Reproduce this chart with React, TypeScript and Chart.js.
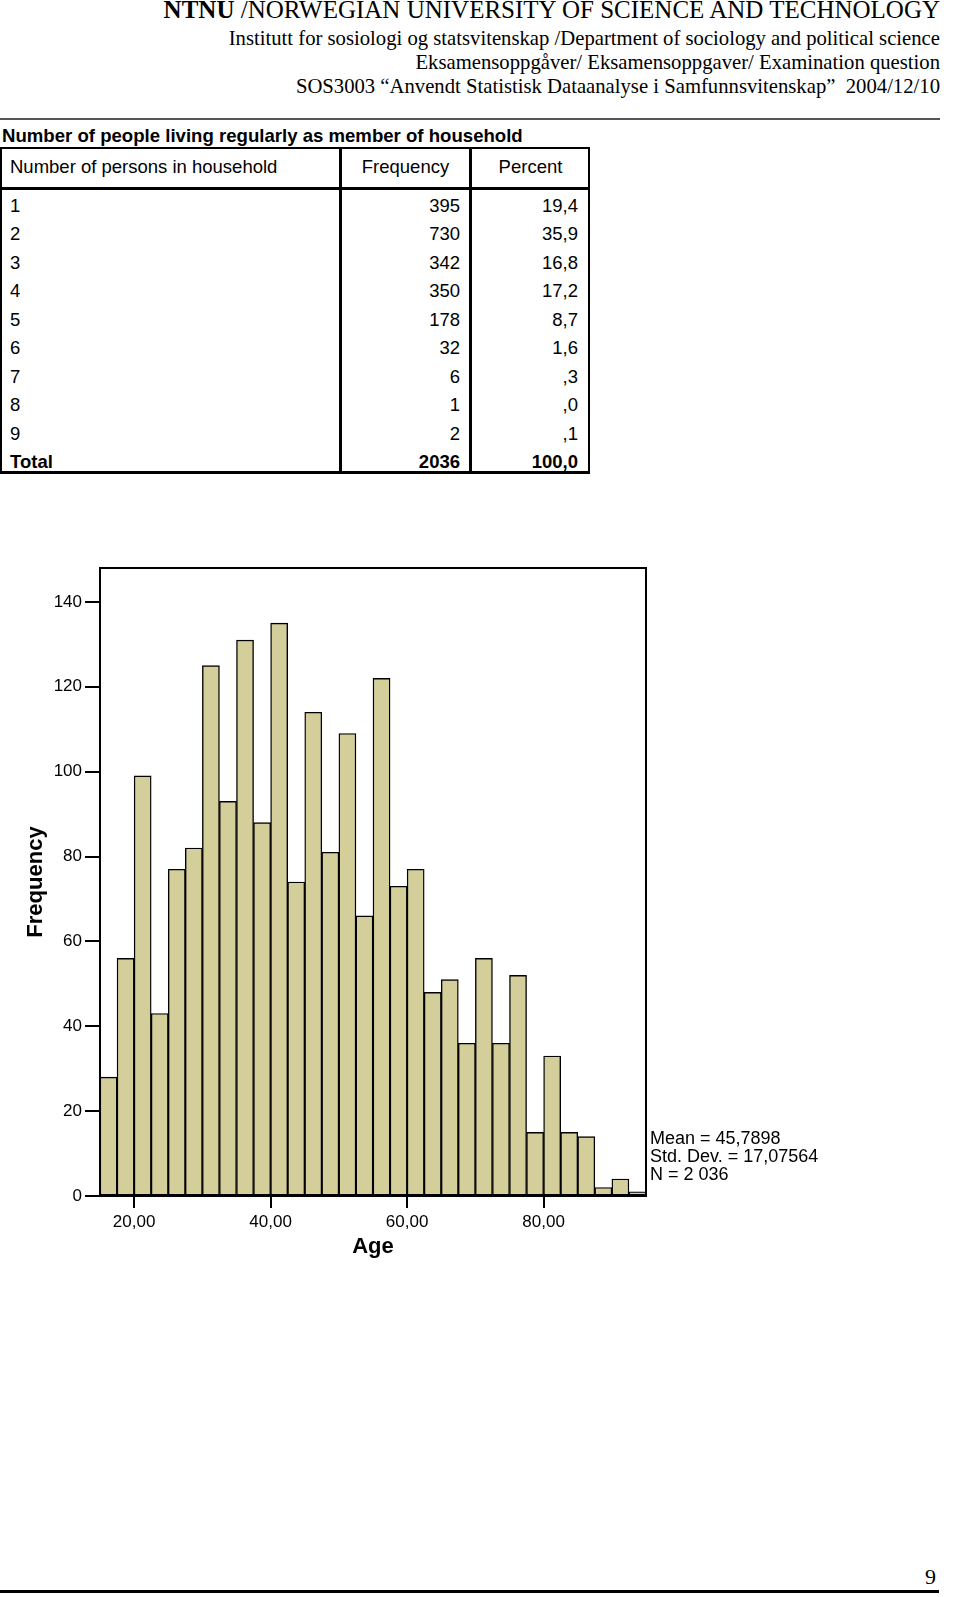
import React, { useEffect, useRef } from "react";
import { Chart, registerables } from "chart.js";

Chart.register(...registerables);

const FONT_SANS = '"Liberation Sans", Arial, Helvetica, sans-serif';
const FONT_SERIF = '"Liberation Serif", "Times New Roman", Times, serif';

// Header texts
const headerLine1Bold = "NTNU";
const headerLine1Rest = " /NORWEGIAN UNIVERSITY OF SCIENCE AND TECHNOLOGY";
const headerLines = [
  "Institutt for sosiologi og statsvitenskap /Department of sociology and political science",
  "Eksamensoppgåver/ Eksamensoppgaver/ Examination question",
  "SOS3003 \u201CAnvendt Statistisk Dataanalyse i Samfunnsvitenskap\u201D\u00A0\u00A02004/12/10",
];

// Table data
const tableTitle = "Number of people living regularly as member of household";
const tableHeaders = ["Number of persons in household", "Frequency", "Percent"];
const householdSizes = ["1", "2", "3", "4", "5", "6", "7", "8", "9"];
const householdFreq = ["395", "730", "342", "350", "178", "32", "6", "1", "2"];
const householdPct = ["19,4", "35,9", "16,8", "17,2", "8,7", "1,6", ",3", ",0", ",1"];
const totalRow = ["Total", "2036", "100,0"];

// Histogram data (bins of 2.5 years from 15 to 95)
const ageBinCenters = [
  16.25, 18.75, 21.25, 23.75, 26.25, 28.75, 31.25, 33.75, 36.25, 38.75, 41.25,
  43.75, 46.25, 48.75, 51.25, 53.75, 56.25, 58.75, 61.25, 63.75, 66.25, 68.75,
  71.25, 73.75, 76.25, 78.75, 81.25, 83.75, 86.25, 88.75, 91.25, 93.75,
];
const ageFrequencies = [
  28, 56, 99, 43, 77, 82, 125, 93, 131, 88, 135, 74, 114, 81, 109, 66, 122, 73,
  77, 48, 51, 36, 56, 36, 52, 15, 33, 15, 14, 2, 4, 1,
];
const xTickValues = [20, 40, 60, 80];
const yTickValues = [0, 20, 40, 60, 80, 100, 120, 140];
const xRange = [15, 95];
const yRange = [0, 148];
const statsLines = ["Mean = 45,7898", "Std. Dev. = 17,07564", "N = 2 036"];
const pageNumber = "9";

function HistogramChart() {
  const canvasRef = useRef<HTMLCanvasElement>(null);
  useEffect(() => {
    const el = canvasRef.current;
    if (!el) return;
    const framePlugin = {
      id: "frame",
      afterDraw(chart: any) {
        const { ctx, chartArea: a } = chart;
        ctx.save();
        ctx.strokeStyle = "#000";
        ctx.lineWidth = 2;
        ctx.beginPath();
        ctx.moveTo(a.left, a.bottom);
        ctx.lineTo(a.left, a.top);
        ctx.lineTo(a.right, a.top);
        ctx.lineTo(a.right, a.bottom);
        ctx.stroke();
        ctx.restore();
      },
    };
    const chart = new Chart(el, {
      type: "bar",
      data: {
        datasets: [
          {
            data: ageBinCenters.map((x, i) => ({ x, y: ageFrequencies[i] })),
            backgroundColor: "#d4ce9a",
            borderColor: "#000",
            borderWidth: 1.4,
            borderSkipped: false,
            barPercentage: 1,
            categoryPercentage: 1,
          } as any,
        ],
      },
      options: {
        animation: false,
        responsive: false,
        layout: { padding: { top: 18, right: 14, left: 0, bottom: 0 } },
        plugins: {
          legend: { display: false },
          tooltip: { enabled: false },
          title: { display: false },
        },
        scales: {
          x: {
            type: "linear",
            min: xRange[0],
            max: xRange[1],
            offset: false,
            afterBuildTicks: (s: any) => {
              s.ticks = xTickValues.map((v) => ({ value: v }));
            },
            afterFit: (s: any) => {
              s.height = 74;
            },
            ticks: {
              color: "#000",
              font: { family: FONT_SANS, size: 17 },
              padding: 4,
              maxRotation: 0,
              autoSkip: false,
              callback: (v: any) => Number(v).toFixed(2).replace(".", ","),
            },
            grid: {
              display: true,
              drawOnChartArea: false,
              drawTicks: true,
              tickLength: 12,
              color: "#000",
              lineWidth: 2,
              offset: false,
            },
            border: { display: true, color: "#000", width: 2 },
            title: {
              display: true,
              text: "Age",
              color: "#000",
              font: { family: FONT_SANS, size: 22, weight: "bold" },
              padding: { top: 0, bottom: 10 },
            },
          } as any,
          y: {
            type: "linear",
            min: yRange[0],
            max: yRange[1],
            afterBuildTicks: (s: any) => {
              s.ticks = yTickValues.map((v) => ({ value: v }));
            },
            afterFit: (s: any) => {
              s.width = 100;
            },
            ticks: {
              color: "#000",
              font: { family: FONT_SANS, size: 17 },
              padding: 3,
              autoSkip: false,
            },
            grid: {
              display: true,
              drawOnChartArea: false,
              drawTicks: true,
              tickLength: 15,
              color: "#000",
              lineWidth: 2,
            },
            border: { display: true, color: "#000", width: 2 },
            title: {
              display: true,
              text: "Frequency",
              color: "#000",
              font: { family: FONT_SANS, size: 22, weight: "bold" },
              padding: { top: 23, bottom: 0 },
            },
          } as any,
        },
      },
      plugins: [framePlugin],
    });
    return () => chart.destroy();
  }, []);
  return (
    <canvas
      ref={canvasRef}
      width={660}
      height={720}
      style={{ position: "absolute", left: 0, top: 550, width: 660, height: 720 }}
    />
  );
}

export default function App() {
  const rowTop0 = 43;
  const rowH = 28.44;
  const cellText: React.CSSProperties = {
    position: "absolute",
    fontFamily: FONT_SANS,
    fontSize: 18.5,
    lineHeight: "28px",
    color: "#000",
    whiteSpace: "nowrap",
  };
  const allRows = householdSizes.map((s, i) => [s, householdFreq[i], householdPct[i]]);
  allRows.push(totalRow);
  return (
    <div
      style={{
        position: "absolute",
        left: 0,
        top: 0,
        width: 960,
        height: 1597,
        background: "#fff",
        overflow: "hidden",
      }}
    >
      {/* Header */}
      <div
        style={{
          position: "absolute",
          right: 20,
          top: -3,
          fontFamily: FONT_SERIF,
          fontSize: 25,
          lineHeight: "26px",
          whiteSpace: "nowrap",
          color: "#000",
        }}
      >
        <b>{headerLine1Bold}</b>
        {headerLine1Rest}
      </div>
      {headerLines.map((t, i) => (
        <div
          key={i}
          style={{
            position: "absolute",
            right: 20,
            top: 25.5 + i * 24.2,
            fontFamily: FONT_SERIF,
            fontSize: 20.7,
            lineHeight: "24px",
            whiteSpace: "nowrap",
            color: "#000",
          }}
        >
          {t}
        </div>
      ))}
      <div style={{ position: "absolute", left: 0, top: 118, width: 940, height: 2, background: "#555" }} />

      {/* Table */}
      <div
        style={{
          position: "absolute",
          left: 2,
          top: 124,
          fontFamily: FONT_SANS,
          fontWeight: "bold",
          fontSize: 18.6,
          lineHeight: "24px",
          whiteSpace: "nowrap",
          color: "#000",
        }}
      >
        {tableTitle}
      </div>
      <div
        style={{
          position: "absolute",
          left: 0,
          top: 147,
          width: 590,
          height: 327,
          boxSizing: "border-box",
          border: "2px solid #000",
          borderBottomWidth: 3,
        }}
      >
        <div style={{ position: "absolute", left: 337, top: 0, width: 3, height: "100%", background: "#000" }} />
        <div style={{ position: "absolute", left: 467, top: 0, width: 2.5, height: "100%", background: "#000" }} />
        <div style={{ position: "absolute", left: 0, top: 38, width: "100%", height: 2.5, background: "#000" }} />
        <div style={{ ...cellText, left: 8, top: 4 }}>{tableHeaders[0]}</div>
        <div style={{ ...cellText, left: 340, width: 127, textAlign: "center", top: 4 }}>{tableHeaders[1]}</div>
        <div style={{ ...cellText, left: 469, width: 119, textAlign: "center", top: 4 }}>{tableHeaders[2]}</div>
        {allRows.map((r, i) => {
          const bold = i === allRows.length - 1;
          const top = rowTop0 + i * rowH;
          const fw = bold ? "bold" : "normal";
          return (
            <React.Fragment key={i}>
              <div style={{ ...cellText, left: 8, top, fontWeight: fw }}>{r[0]}</div>
              <div style={{ ...cellText, right: 588 - 460, top, fontWeight: fw }}>{r[1]}</div>
              <div style={{ ...cellText, right: 588 - 578, top, fontWeight: fw }}>{r[2]}</div>
            </React.Fragment>
          );
        })}
      </div>

      {/* Chart */}
      <HistogramChart />
      {statsLines.map((t, i) => (
        <div
          key={i}
          style={{
            position: "absolute",
            left: 650,
            top: 1129 + i * 18,
            fontFamily: FONT_SANS,
            fontSize: 18,
            lineHeight: "18px",
            whiteSpace: "nowrap",
            color: "#000",
          }}
        >
          {t}
        </div>
      ))}

      {/* Footer */}
      <div
        style={{
          position: "absolute",
          right: 24,
          top: 1565,
          fontFamily: FONT_SERIF,
          fontSize: 22,
          lineHeight: "24px",
          color: "#000",
        }}
      >
        {pageNumber}
      </div>
      <div style={{ position: "absolute", left: 0, top: 1590, width: 939, height: 2.5, background: "#000" }} />
    </div>
  );
}
